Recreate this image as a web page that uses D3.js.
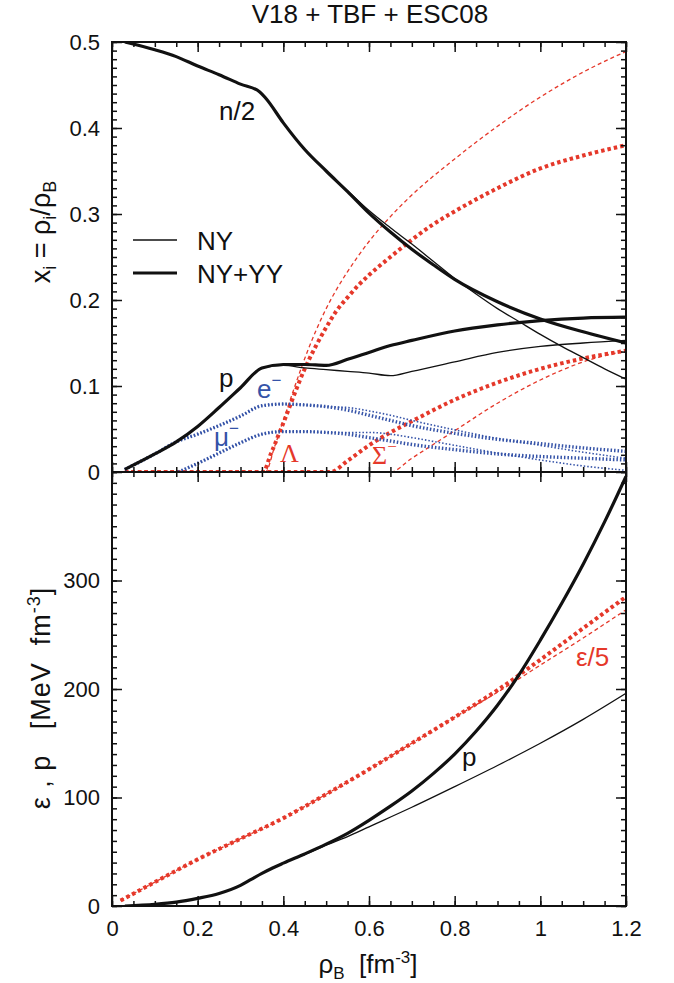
<!DOCTYPE html>
<html>
<head>
<meta charset="utf-8">
<script src="https://cdn.jsdelivr.net/npm/d3@7"></script>
<style>
  body { margin: 0; background: #fff; }
  svg { font-family: "Liberation Sans", Arial, sans-serif; }
</style>
</head>
<body>
<svg id="chart" width="674" height="983"></svg>
<script>
// ---- data (rho_B in fm^-3) ----
// top panel: particle fractions x_i ; thin = NY, thick = NY+YY
const n2NY = [[0.03,0.5],[0.1,0.491],[0.15,0.483],[0.2,0.472],[0.25,0.462],[0.3,0.451],[0.345,0.442],[0.36,0.434],[0.4,0.406],[0.45,0.375],[0.5,0.35],[0.55,0.327],[0.6,0.304],[0.65,0.284],[0.7,0.265],[0.75,0.245],[0.8,0.225],[0.85,0.207],[0.9,0.19],[0.95,0.175],[1.0,0.16],[1.05,0.146],[1.1,0.133],[1.15,0.12],[1.2,0.108]];
const n2YY = [[0.03,0.5],[0.1,0.491],[0.15,0.483],[0.2,0.472],[0.25,0.462],[0.3,0.451],[0.345,0.442],[0.36,0.434],[0.4,0.406],[0.45,0.375],[0.5,0.35],[0.55,0.326],[0.6,0.301],[0.65,0.279],[0.7,0.259],[0.75,0.241],[0.8,0.224],[0.9,0.198],[1.0,0.178],[1.1,0.163],[1.2,0.15]];
const pNY = [[0.03,0.003],[0.1,0.021],[0.15,0.035],[0.2,0.053],[0.25,0.075],[0.3,0.098],[0.35,0.121],[0.4,0.124],[0.45,0.121],[0.5,0.119],[0.55,0.117],[0.6,0.115],[0.65,0.112],[0.7,0.117],[0.8,0.128],[0.9,0.139],[1.0,0.146],[1.1,0.15],[1.2,0.153]];
const pYY = [[0.03,0.003],[0.1,0.021],[0.15,0.035],[0.2,0.053],[0.25,0.075],[0.3,0.098],[0.35,0.121],[0.4,0.125],[0.45,0.125],[0.5,0.124],[0.55,0.131],[0.6,0.139],[0.65,0.147],[0.7,0.153],[0.8,0.164],[0.9,0.171],[1.0,0.176],[1.1,0.179],[1.2,0.18]];
const eNY = [[0.03,0.003],[0.1,0.021],[0.15,0.035],[0.2,0.044],[0.25,0.054],[0.3,0.065],[0.35,0.077],[0.4,0.079],[0.45,0.078],[0.5,0.076],[0.55,0.075],[0.6,0.071],[0.65,0.066],[0.7,0.06],[0.8,0.049],[0.9,0.039],[1.0,0.031],[1.1,0.023],[1.2,0.016]];
const eYY = [[0.03,0.003],[0.1,0.021],[0.15,0.035],[0.2,0.044],[0.25,0.054],[0.3,0.065],[0.35,0.077],[0.4,0.079],[0.45,0.078],[0.5,0.076],[0.55,0.072],[0.6,0.066],[0.65,0.06],[0.7,0.054],[0.8,0.045],[0.9,0.038],[1.0,0.033],[1.1,0.028],[1.2,0.024]];
const muNY = [[0.155,0],[0.2,0.01],[0.25,0.022],[0.3,0.034],[0.35,0.044],[0.4,0.047],[0.45,0.047],[0.5,0.046],[0.55,0.046],[0.6,0.046],[0.65,0.044],[0.7,0.04],[0.8,0.031],[0.9,0.022],[1.0,0.014],[1.1,0.007],[1.2,0.002]];
const muYY = [[0.155,0],[0.2,0.01],[0.25,0.022],[0.3,0.034],[0.35,0.044],[0.4,0.047],[0.45,0.047],[0.5,0.046],[0.55,0.044],[0.6,0.04],[0.65,0.036],[0.7,0.032],[0.8,0.026],[0.9,0.021],[1.0,0.018],[1.1,0.016],[1.2,0.014]];
const lamNY = [[0.03,0],[0.358,0],[0.38,0.03],[0.4,0.06],[0.425,0.097],[0.45,0.132],[0.475,0.163],[0.5,0.19],[0.525,0.213],[0.55,0.233],[0.6,0.268],[0.65,0.297],[0.7,0.322],[0.8,0.364],[0.9,0.402],[1.0,0.436],[1.1,0.465],[1.2,0.489]];
const lamYY = [[0.03,0],[0.353,0],[0.37,0.02],[0.4,0.057],[0.45,0.12],[0.5,0.168],[0.525,0.188],[0.55,0.203],[0.575,0.217],[0.6,0.229],[0.65,0.25],[0.7,0.27],[0.75,0.288],[0.8,0.303],[0.9,0.33],[1.0,0.353],[1.1,0.368],[1.2,0.38]];
const sigNY = [[0.03,0],[0.65,0],[0.7,0.016],[0.8,0.048],[0.9,0.08],[1.0,0.107],[1.1,0.128],[1.2,0.141]];
const sigYY = [[0.03,0],[0.51,0],[0.55,0.013],[0.6,0.031],[0.65,0.046],[0.7,0.059],[0.8,0.084],[0.9,0.104],[1.0,0.12],[1.1,0.132],[1.2,0.141]];

// bottom panel: energy density / 5 and pressure (MeV fm^-3)
const epsNY = [[0.02,5],[0.1,22],[0.2,43],[0.3,62],[0.4,81],[0.5,103],[0.6,126],[0.7,150],[0.8,174],[0.9,197],[1.0,222],[1.1,247],[1.2,273]];
const epsYY = [[0.02,5],[0.1,22],[0.2,43],[0.3,62],[0.4,81],[0.5,103],[0.6,126],[0.7,150],[0.8,174],[0.9,199],[1.0,227],[1.1,256],[1.2,285]];
const presNY = [[0.03,0],[0.1,1.5],[0.15,3.5],[0.2,7],[0.25,11.5],[0.3,19],[0.325,24.5],[0.35,30],[0.375,35],[0.4,39.5],[0.45,47.5],[0.5,56],[0.55,64],[0.6,73],[0.7,91],[0.8,110],[0.9,129.5],[1.0,150],[1.1,172],[1.2,196]];
const presYY = [[0.03,0],[0.1,1.5],[0.15,3.5],[0.2,7],[0.25,11.5],[0.3,19],[0.325,24.5],[0.35,30],[0.375,35],[0.4,39.5],[0.45,48],[0.5,57],[0.55,67],[0.6,79],[0.65,92],[0.7,106],[0.75,122],[0.8,140],[0.85,161],[0.9,185],[0.95,213],[1.0,245],[1.05,279],[1.1,315],[1.15,354],[1.2,396]];

// ticks
const xTicks = [0, 0.2, 0.4, 0.6, 0.8, 1, 1.2];
const xTickLabels = ["0", "0.2", "0.4", "0.6", "0.8", "1", "1.2"];
const yTopTicks = [0, 0.1, 0.2, 0.3, 0.4, 0.5];
const yTopTickLabels = ["0", "0.1", "0.2", "0.3", "0.4", "0.5"];
const yBotTicks = [0, 100, 200, 300];
const yBotTickLabels = ["0", "100", "200", "300"];

// ---- layout ----
const left = 112, right = 626, topY = 42, midY = 472, botY = 906;
const red = "#e5382a", blue = "#3553a8";

const svg = d3.select("#chart");

const x = d3.scaleLinear().domain([0, 1.2]).range([left, right]);
const yTop = d3.scaleLinear().domain([0, 0.5]).range([midY, topY]);
const yBot = d3.scaleLinear().domain([0, 400]).range([botY, midY]);

const minorX = d3.range(0, 1.2001, 0.05);
const minorTop = d3.range(0, 0.5001, 0.01);
const minorBot = d3.range(0, 400.1, 10);

svg.append("defs").selectAll("clipPath")
  .data([["clipTop", topY, midY], ["clipBot", midY, botY]])
  .enter().append("clipPath")
  .attr("id", d => d[0])
  .append("rect")
  .attr("x", left).attr("y", d => d[1])
  .attr("width", right - left).attr("height", d => d[2] - d[1]);

// ---- curves ----
function drawCurve(data, yScale, clip, style) {
  const line = d3.line()
    .x(d => x(d[0]))
    .y(d => yScale(d[1]))
    .curve(d3.curveMonotoneX);
  svg.append("path")
    .datum(data)
    .attr("clip-path", "url(#" + clip + ")")
    .attr("d", line)
    .attr("fill", "none")
    .attr("stroke", style.color)
    .attr("stroke-width", style.width)
    .attr("stroke-dasharray", style.dash || null)
    .attr("stroke-linejoin", "round");
}

const thinBlack = {color: "#111", width: 1.3};
const thickBlack = {color: "#111", width: 3.2};
const redThin = {color: red, width: 1.3, dash: "4,3"};
const redThick = {color: red, width: 4, dash: "3.5,3"};
const blueThin = {color: blue, width: 1.6, dash: "1.5,2"};
const blueThick = {color: blue, width: 3.4, dash: "1.5,2"};

drawCurve(lamNY, yTop, "clipTop", redThin);
drawCurve(lamYY, yTop, "clipTop", redThick);
drawCurve(sigNY, yTop, "clipTop", redThin);
drawCurve(sigYY, yTop, "clipTop", redThick);
drawCurve(eNY, yTop, "clipTop", blueThin);
drawCurve(eYY, yTop, "clipTop", blueThick);
drawCurve(muNY, yTop, "clipTop", blueThin);
drawCurve(muYY, yTop, "clipTop", blueThick);
drawCurve(n2NY, yTop, "clipTop", thinBlack);
drawCurve(n2YY, yTop, "clipTop", thickBlack);
drawCurve(pNY, yTop, "clipTop", thinBlack);
drawCurve(pYY, yTop, "clipTop", thickBlack);

drawCurve(epsNY, yBot, "clipBot", redThin);
drawCurve(epsYY, yBot, "clipBot", redThick);
drawCurve(presNY, yBot, "clipBot", thinBlack);
drawCurve(presYY, yBot, "clipBot", thickBlack);

// ---- axes (ticks point inward) ----
function addAxis(axis, tx, ty, labels) {
  const g = svg.append("g")
    .attr("transform", "translate(" + tx + "," + ty + ")")
    .call(axis);
  g.select(".domain").remove();
  g.selectAll(".tick line").attr("stroke", "#111").attr("stroke-width", 1.5);
  if (labels) {
    g.selectAll(".tick text")
      .text((d, i) => labels[i])
      .attr("font-size", 22)
      .attr("font-family", "Liberation Sans, Arial, sans-serif")
      .attr("fill", "#111");
  } else {
    g.selectAll(".tick text").remove();
  }
}

// top panel
addAxis(d3.axisLeft(yTop).tickValues(minorTop).tickSize(-5), left, 0);
addAxis(d3.axisLeft(yTop).tickValues(yTopTicks).tickSize(-10).tickPadding(12), left, 0, yTopTickLabels);
addAxis(d3.axisRight(yTop).tickValues(minorTop).tickSize(-5), right, 0);
addAxis(d3.axisRight(yTop).tickValues(yTopTicks).tickSize(-10), right, 0);
addAxis(d3.axisTop(x).tickValues(minorX).tickSize(-5), 0, topY);
addAxis(d3.axisTop(x).tickValues(xTicks).tickSize(-10), 0, topY);
addAxis(d3.axisBottom(x).tickValues(minorX).tickSize(-5), 0, midY);
addAxis(d3.axisBottom(x).tickValues(xTicks).tickSize(-10), 0, midY);

// bottom panel
addAxis(d3.axisLeft(yBot).tickValues(minorBot).tickSize(-5), left, 0);
addAxis(d3.axisLeft(yBot).tickValues(yBotTicks).tickSize(-10).tickPadding(12), left, 0, yBotTickLabels);
addAxis(d3.axisRight(yBot).tickValues(minorBot).tickSize(-5), right, 0);
addAxis(d3.axisRight(yBot).tickValues(yBotTicks).tickSize(-10), right, 0);
addAxis(d3.axisTop(x).tickValues(minorX).tickSize(-5), 0, midY);
addAxis(d3.axisTop(x).tickValues(xTicks).tickSize(-10), 0, midY);
addAxis(d3.axisBottom(x).tickValues(minorX).tickSize(-5), 0, botY);
addAxis(d3.axisBottom(x).tickValues(xTicks).tickSize(-10).tickPadding(14), 0, botY, xTickLabels);

// frames
svg.append("rect").attr("x", left).attr("y", topY).attr("width", right - left).attr("height", midY - topY)
  .attr("fill", "none").attr("stroke", "#111").attr("stroke-width", 2);
svg.append("rect").attr("x", left).attr("y", midY).attr("width", right - left).attr("height", botY - midY)
  .attr("fill", "none").attr("stroke", "#111").attr("stroke-width", 2);

// ---- text ----
svg.append("text")
  .attr("x", 370).attr("y", 23)
  .attr("text-anchor", "middle")
  .attr("font-size", 26)
  .attr("fill", "#111")
  .text("V18 + TBF + ESC08");

// top y title: x_i = rho_i / rho_B
const yt = svg.append("text")
  .attr("transform", "translate(50,232) rotate(-90)")
  .attr("text-anchor", "middle")
  .attr("font-size", 27)
  .attr("fill", "#111");
yt.append("tspan").text("x");
yt.append("tspan").attr("dy", 6).attr("font-size", 18).text("i");
yt.append("tspan").attr("dy", -6).text("\u00a0=\u00a0ρ");
yt.append("tspan").attr("dy", 6).attr("font-size", 18).text("i");
yt.append("tspan").attr("dy", -6).text("/ρ");
yt.append("tspan").attr("dy", 6).attr("font-size", 18).text("B");

// bottom y title
const yb = svg.append("text")
  .attr("transform", "translate(50,698) rotate(-90)")
  .attr("text-anchor", "middle")
  .attr("font-size", 27)
  .attr("letter-spacing", 1)
  .attr("fill", "#111");
yb.append("tspan").text("ε\u00a0,\u00a0p\u00a0\u00a0\u00a0[MeV\u00a0\u00a0fm");
yb.append("tspan").attr("dy", -10).attr("font-size", 18).text("-3");
yb.append("tspan").attr("dy", 10).text("]");

// x title
const xt = svg.append("text")
  .attr("x", 368).attr("y", 973)
  .attr("text-anchor", "middle")
  .attr("font-size", 26)
  .attr("fill", "#111");
xt.append("tspan").text("ρ");
xt.append("tspan").attr("dy", 6).attr("font-size", 17).text("B");
xt.append("tspan").attr("dy", -6).text("\u00a0\u00a0[fm");
xt.append("tspan").attr("dy", -10).attr("font-size", 17).text("-3");
xt.append("tspan").attr("dy", 10).text("]");

// legend
const legendItems = [["NY", 1.3, 240], ["NY+YY", 3.2, 273]];
const legend = svg.selectAll(".legend")
  .data(legendItems)
  .enter().append("g")
  .attr("class", "legend");
legend.append("line")
  .attr("x1", 133).attr("x2", 177)
  .attr("y1", d => d[2]).attr("y2", d => d[2])
  .attr("stroke", "#111")
  .attr("stroke-width", d => d[1]);
legend.append("text")
  .attr("x", 197).attr("y", d => d[2] + 10)
  .attr("font-size", 26)
  .attr("fill", "#111")
  .text(d => d[0]);

// curve labels
function label(tx, ty, color, main, sup, serif) {
  const t = svg.append("text")
    .attr("x", tx).attr("y", ty)
    .attr("font-size", 26)
    .attr("fill", color)
    .attr("font-family", serif ? "Liberation Serif, Times New Roman, serif" : null)
    .text(main);
  if (sup) {
    t.append("tspan").attr("dy", -12).attr("font-size", 17).text(sup);
  }
}
label(219, 120, "#111", "n/2");
label(219, 387, "#111", "p");
label(257, 398, blue, "e", "−");
label(214, 446, blue, "μ", "−");
label(280, 462, red, "Λ", null, true);
label(372, 464, red, "Σ", "−", true);
label(576, 666, red, "ε/5");
label(462, 766, "#111", "p");
</script>
</body>
</html>
